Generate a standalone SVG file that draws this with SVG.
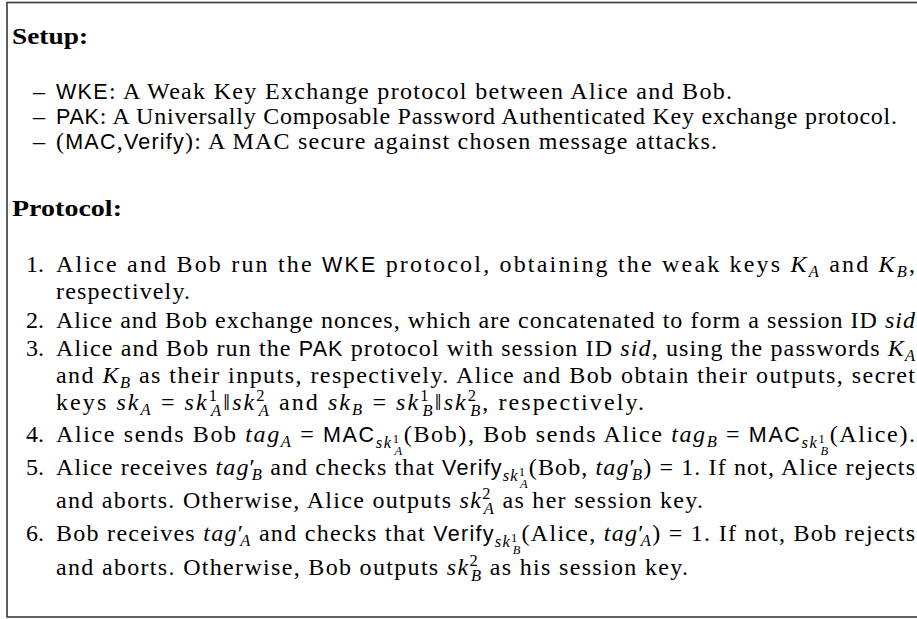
<svg xmlns="http://www.w3.org/2000/svg" width="917" height="619" viewBox="0 0 917 619">
<style>
.t{font-family:"Liberation Serif","Times New Roman",serif;font-size:24px;fill:#000}
.b{font-weight:bold}
.s{font-family:"Liberation Sans",Arial,sans-serif;font-size:21.5px}
.i{font-style:italic}
.m{font-size:16.5px}
.n{font-size:12.5px}
</style>
<rect id="frame" x="7" y="2.5" width="940" height="614.5" fill="#fff" stroke="#3a3a3a" stroke-width="1.6"/>
<g id="setup">
<text class="t b" x="12" y="44" textLength="76" lengthAdjust="spacingAndGlyphs">Setup:</text>
<text class="t" x="45" y="99" text-anchor="end">–</text>
<text class="t" x="56" y="99" textLength="676" lengthAdjust="spacing"><tspan class="s">WKE</tspan>: A Weak Key Exchange protocol between Alice and Bob.</text>
<text class="t" x="45" y="124" text-anchor="end">–</text>
<text class="t" x="56" y="124" textLength="841" lengthAdjust="spacing"><tspan class="s">PAK</tspan>: A Universally Composable Password Authenticated Key exchange protocol.</text>
<text class="t" x="45" y="149" text-anchor="end">–</text>
<text class="t" x="56" y="149" textLength="661" lengthAdjust="spacing">(<tspan class="s">MAC</tspan>,<tspan class="s">Verify</tspan>): A MAC secure against chosen message attacks.</text>
</g>
<g id="protocol">
<text class="t b" x="12" y="216" textLength="110" lengthAdjust="spacingAndGlyphs">Protocol:</text>
<text class="t" x="44" y="272" text-anchor="end">1.</text>
<text class="t" x="56" y="272" textLength="859" lengthAdjust="spacing">Alice and Bob run the <tspan class="s">WKE</tspan> protocol, obtaining the weak keys <tspan class="i">K</tspan><tspan class="i m" y="277">A</tspan><tspan y="272"> and </tspan><tspan class="i">K</tspan><tspan class="i m" y="277">B</tspan><tspan y="272">,</tspan></text>
<text class="t" x="56" y="299" textLength="134" lengthAdjust="spacing">respectively.</text>
<text class="t" x="44" y="328" text-anchor="end">2.</text>
<text class="t" x="56" y="328" textLength="859" lengthAdjust="spacing">Alice and Bob exchange nonces, which are concatenated to form a session ID <tspan class="i">sid</tspan></text>
<text class="t" x="44" y="356" text-anchor="end">3.</text>
<text class="t" x="56" y="356" textLength="859" lengthAdjust="spacing">Alice and Bob run the <tspan class="s">PAK</tspan> protocol with session ID <tspan class="i">sid</tspan>, using the passwords <tspan class="i">K</tspan><tspan class="i m" y="361">A</tspan></text>
<text class="t" x="56" y="383" textLength="859" lengthAdjust="spacing">and <tspan class="i">K</tspan><tspan class="i m" y="388">B</tspan><tspan y="383"> as their inputs, respectively. Alice and Bob obtain their outputs, secret</tspan></text>
<text class="t" x="56" y="410" textLength="588" lengthAdjust="spacing">keys <tspan class="i">sk</tspan><tspan class="i m" y="415">A</tspan><tspan y="410"> = </tspan><tspan class="i">sk</tspan><tspan class="m" y="401">1</tspan><tspan class="i m" dx="-8" y="416">A</tspan><tspan y="410">‖</tspan><tspan class="i">sk</tspan><tspan class="m" y="401">2</tspan><tspan class="i m" dx="-8" y="416">A</tspan><tspan y="410"> and </tspan><tspan class="i">sk</tspan><tspan class="i m" y="415">B</tspan><tspan y="410"> = </tspan><tspan class="i">sk</tspan><tspan class="m" y="401">1</tspan><tspan class="i m" dx="-8" y="416">B</tspan><tspan y="410">‖</tspan><tspan class="i">sk</tspan><tspan class="m" y="401">2</tspan><tspan class="i m" dx="-8" y="416">B</tspan><tspan y="410">, respectively.</tspan></text>
<text class="t" x="44" y="442" text-anchor="end">4.</text>
<text class="t" x="56" y="442" textLength="859" lengthAdjust="spacing">Alice sends Bob <tspan class="i">tag</tspan><tspan class="i m" y="447">A</tspan><tspan y="442"> = </tspan><tspan class="s">MAC</tspan><tspan class="i m" y="448">sk</tspan><tspan class="n" y="443">1</tspan><tspan class="i n" dx="-6" y="455">A</tspan><tspan y="442">(Bob), Bob sends Alice </tspan><tspan class="i">tag</tspan><tspan class="i m" y="447">B</tspan><tspan y="442"> = </tspan><tspan class="s">MAC</tspan><tspan class="i m" y="448">sk</tspan><tspan class="n" y="443">1</tspan><tspan class="i n" dx="-6" y="455">B</tspan><tspan y="442">(Alice).</tspan></text>
<text class="t" x="44" y="475" text-anchor="end">5.</text>
<text class="t" x="56" y="475" textLength="859" lengthAdjust="spacing">Alice receives <tspan class="i">tag</tspan><tspan>′</tspan><tspan class="i m" dx="-4" y="480">B</tspan><tspan y="475"> and checks that </tspan><tspan class="s">Verify</tspan><tspan class="i m" y="481">sk</tspan><tspan class="n" y="476">1</tspan><tspan class="i n" dx="-6" y="488">A</tspan><tspan y="475">(Bob, </tspan><tspan class="i">tag</tspan><tspan>′</tspan><tspan class="i m" dx="-4" y="480">B</tspan><tspan y="475">) = 1. If not, Alice rejects</tspan></text>
<text class="t" x="56" y="508" textLength="647" lengthAdjust="spacing">and aborts. Otherwise, Alice outputs <tspan class="i">sk</tspan><tspan class="m" y="499">2</tspan><tspan class="i m" dx="-8" y="514">A</tspan><tspan y="508"> as her session key.</tspan></text>
<text class="t" x="44" y="541" text-anchor="end">6.</text>
<text class="t" x="56" y="541" textLength="859" lengthAdjust="spacing">Bob receives <tspan class="i">tag</tspan><tspan>′</tspan><tspan class="i m" dx="-4" y="546">A</tspan><tspan y="541"> and checks that </tspan><tspan class="s">Verify</tspan><tspan class="i m" y="547">sk</tspan><tspan class="n" y="542">1</tspan><tspan class="i n" dx="-6" y="554">B</tspan><tspan y="541">(Alice, </tspan><tspan class="i">tag</tspan><tspan>′</tspan><tspan class="i m" dx="-4" y="546">A</tspan><tspan y="541">) = 1. If not, Bob rejects</tspan></text>
<text class="t" x="56" y="575" textLength="632" lengthAdjust="spacing">and aborts. Otherwise, Bob outputs <tspan class="i">sk</tspan><tspan class="m" y="566">2</tspan><tspan class="i m" dx="-8" y="581">B</tspan><tspan y="575"> as his session key.</tspan></text>
</g>
</svg>
